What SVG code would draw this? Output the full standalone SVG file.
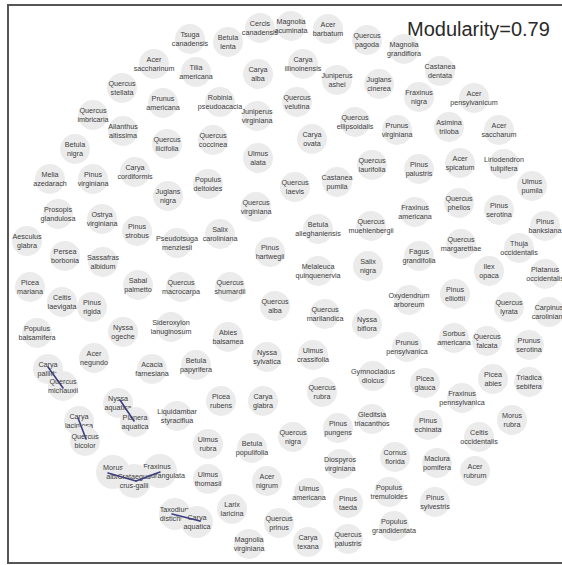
<svg xmlns="http://www.w3.org/2000/svg" width="562" height="565" viewBox="0 0 562 565">
<style>
.n circle{fill:#ebebeb}
.n text{font-family:"Liberation Sans",Arial,sans-serif;font-size:7.2px;fill:#3c3c3c;text-anchor:middle}
.e line{stroke:#3e3e7e;stroke-width:1.6;stroke-linecap:round}
.title{font-family:"Liberation Sans",Arial,sans-serif;font-size:20px;fill:#2a2a2a}
</style>
<rect x="0" y="0" width="562" height="565" fill="#ffffff"/>
<rect x="8" y="5" width="556" height="558" fill="none" stroke="#555555" stroke-width="2"/>
<text class="title" x="407" y="36">Modularity=0.79</text>
<g id="nodes">
<g id="tsuga-canadensis" class="n" transform="translate(190,39)"><circle r="15"/><text><tspan x="0" y="-2">Tsuga</tspan><tspan x="0" y="7">canadensis</tspan></text></g>
<g id="betula-lenta" class="n" transform="translate(228,42)"><circle r="15"/><text><tspan x="0" y="-2">Betula</tspan><tspan x="0" y="7">lenta</tspan></text></g>
<g id="cercis-canadensis" class="n" transform="translate(260,28)"><circle r="15"/><text><tspan x="0" y="-2">Cercis</tspan><tspan x="0" y="7">canadensis</tspan></text></g>
<g id="magnolia-acuminata" class="n" transform="translate(291,26)"><circle r="15"/><text><tspan x="0" y="-2">Magnolia</tspan><tspan x="0" y="7">acuminata</tspan></text></g>
<g id="acer-barbatum" class="n" transform="translate(328,29)"><circle r="15"/><text><tspan x="0" y="-2">Acer</tspan><tspan x="0" y="7">barbatum</tspan></text></g>
<g id="quercus-pagoda" class="n" transform="translate(367,40)"><circle r="15"/><text><tspan x="0" y="-2">Quercus</tspan><tspan x="0" y="7">pagoda</tspan></text></g>
<g id="magnolia-grandiflora" class="n" transform="translate(404,49)"><circle r="15"/><text><tspan x="0" y="-2">Magnolia</tspan><tspan x="0" y="7">grandiflora</tspan></text></g>
<g id="castanea-dentata" class="n" transform="translate(440,71)"><circle r="15"/><text><tspan x="0" y="-2">Castanea</tspan><tspan x="0" y="7">dentata</tspan></text></g>
<g id="acer-saccharinum" class="n" transform="translate(154,64)"><circle r="15"/><text><tspan x="0" y="-2">Acer</tspan><tspan x="0" y="7">saccharinum</tspan></text></g>
<g id="tilia-americana" class="n" transform="translate(196,72)"><circle r="15"/><text><tspan x="0" y="-2">Tilia</tspan><tspan x="0" y="7">americana</tspan></text></g>
<g id="carya-alba" class="n" transform="translate(258,74)"><circle r="15"/><text><tspan x="0" y="-2">Carya</tspan><tspan x="0" y="7">alba</tspan></text></g>
<g id="carya-illinoinensis" class="n" transform="translate(303,64)"><circle r="15"/><text><tspan x="0" y="-2">Carya</tspan><tspan x="0" y="7">illinoinensis</tspan></text></g>
<g id="juniperus-ashei" class="n" transform="translate(337,80)"><circle r="15"/><text><tspan x="0" y="-2">Juniperus</tspan><tspan x="0" y="7">ashei</tspan></text></g>
<g id="juglans-cinerea" class="n" transform="translate(379,84)"><circle r="15"/><text><tspan x="0" y="-2">Juglans</tspan><tspan x="0" y="7">cinerea</tspan></text></g>
<g id="fraxinus-nigra" class="n" transform="translate(419,97)"><circle r="15"/><text><tspan x="0" y="-2">Fraxinus</tspan><tspan x="0" y="7">nigra</tspan></text></g>
<g id="acer-pensylvanicum" class="n" transform="translate(474,98)"><circle r="15"/><text><tspan x="0" y="-2">Acer</tspan><tspan x="0" y="7">pensylvanicum</tspan></text></g>
<g id="quercus-stellata" class="n" transform="translate(122,88)"><circle r="15"/><text><tspan x="0" y="-2">Quercus</tspan><tspan x="0" y="7">stellata</tspan></text></g>
<g id="prunus-americana" class="n" transform="translate(163,103)"><circle r="15"/><text><tspan x="0" y="-2">Prunus</tspan><tspan x="0" y="7">americana</tspan></text></g>
<g id="robinia-pseudoacacia" class="n" transform="translate(220,102)"><circle r="15"/><text><tspan x="0" y="-2">Robinia</tspan><tspan x="0" y="7">pseudoacacia</tspan></text></g>
<g id="quercus-velutina" class="n" transform="translate(297,102)"><circle r="15"/><text><tspan x="0" y="-2">Quercus</tspan><tspan x="0" y="7">velutina</tspan></text></g>
<g id="juniperus-virginiana" class="n" transform="translate(257,116)"><circle r="15"/><text><tspan x="0" y="-2">Juniperus</tspan><tspan x="0" y="7">virginiana</tspan></text></g>
<g id="quercus-imbricaria" class="n" transform="translate(93,115)"><circle r="15"/><text><tspan x="0" y="-2">Quercus</tspan><tspan x="0" y="7">imbricaria</tspan></text></g>
<g id="ailanthus-altissima" class="n" transform="translate(123,131)"><circle r="15"/><text><tspan x="0" y="-2">Ailanthus</tspan><tspan x="0" y="7">altissima</tspan></text></g>
<g id="quercus-ellipsoidalis" class="n" transform="translate(355,122)"><circle r="15"/><text><tspan x="0" y="-2">Quercus</tspan><tspan x="0" y="7">ellipsoidalis</tspan></text></g>
<g id="prunus-virginiana" class="n" transform="translate(397,130)"><circle r="15"/><text><tspan x="0" y="-2">Prunus</tspan><tspan x="0" y="7">virginiana</tspan></text></g>
<g id="asimina-triloba" class="n" transform="translate(449,127)"><circle r="15"/><text><tspan x="0" y="-2">Asimina</tspan><tspan x="0" y="7">triloba</tspan></text></g>
<g id="acer-saccharum" class="n" transform="translate(499,130)"><circle r="15"/><text><tspan x="0" y="-2">Acer</tspan><tspan x="0" y="7">saccharum</tspan></text></g>
<g id="betula-nigra" class="n" transform="translate(75,149)"><circle r="15"/><text><tspan x="0" y="-2">Betula</tspan><tspan x="0" y="7">nigra</tspan></text></g>
<g id="quercus-ilicifolia" class="n" transform="translate(167,144)"><circle r="15"/><text><tspan x="0" y="-2">Quercus</tspan><tspan x="0" y="7">ilicifolia</tspan></text></g>
<g id="quercus-coccinea" class="n" transform="translate(213,140)"><circle r="15"/><text><tspan x="0" y="-2">Quercus</tspan><tspan x="0" y="7">coccinea</tspan></text></g>
<g id="carya-ovata" class="n" transform="translate(312,139)"><circle r="15"/><text><tspan x="0" y="-2">Carya</tspan><tspan x="0" y="7">ovata</tspan></text></g>
<g id="ulmus-alata" class="n" transform="translate(258,158)"><circle r="15"/><text><tspan x="0" y="-2">Ulmus</tspan><tspan x="0" y="7">alata</tspan></text></g>
<g id="quercus-laurifolia" class="n" transform="translate(372,165)"><circle r="15"/><text><tspan x="0" y="-2">Quercus</tspan><tspan x="0" y="7">laurifolia</tspan></text></g>
<g id="pinus-palustris" class="n" transform="translate(419,169)"><circle r="15"/><text><tspan x="0" y="-2">Pinus</tspan><tspan x="0" y="7">palustris</tspan></text></g>
<g id="acer-spicatum" class="n" transform="translate(460,163)"><circle r="15"/><text><tspan x="0" y="-2">Acer</tspan><tspan x="0" y="7">spicatum</tspan></text></g>
<g id="liriodendron-tulipifera" class="n" transform="translate(504,164)"><circle r="15"/><text><tspan x="0" y="-2">Liriodendron</tspan><tspan x="0" y="7">tulipifera</tspan></text></g>
<g id="melia-azedarach" class="n" transform="translate(50,179)"><circle r="15"/><text><tspan x="0" y="-2">Melia</tspan><tspan x="0" y="7">azedarach</tspan></text></g>
<g id="pinus-virginiana" class="n" transform="translate(93,179)"><circle r="15"/><text><tspan x="0" y="-2">Pinus</tspan><tspan x="0" y="7">virginiana</tspan></text></g>
<g id="carya-cordiformis" class="n" transform="translate(135,172)"><circle r="15"/><text><tspan x="0" y="-2">Carya</tspan><tspan x="0" y="7">cordiformis</tspan></text></g>
<g id="populus-deltoides" class="n" transform="translate(208,184)"><circle r="15"/><text><tspan x="0" y="-2">Populus</tspan><tspan x="0" y="7">deltoides</tspan></text></g>
<g id="quercus-laevis" class="n" transform="translate(295,187)"><circle r="15"/><text><tspan x="0" y="-2">Quercus</tspan><tspan x="0" y="7">laevis</tspan></text></g>
<g id="castanea-pumila" class="n" transform="translate(337,182)"><circle r="15"/><text><tspan x="0" y="-2">Castanea</tspan><tspan x="0" y="7">pumila</tspan></text></g>
<g id="ulmus-pumila" class="n" transform="translate(532,186)"><circle r="15"/><text><tspan x="0" y="-2">Ulmus</tspan><tspan x="0" y="7">pumila</tspan></text></g>
<g id="juglans-nigra" class="n" transform="translate(168,196)"><circle r="15"/><text><tspan x="0" y="-2">Juglans</tspan><tspan x="0" y="7">nigra</tspan></text></g>
<g id="quercus-phellos" class="n" transform="translate(459,203)"><circle r="15"/><text><tspan x="0" y="-2">Quercus</tspan><tspan x="0" y="7">phellos</tspan></text></g>
<g id="pinus-serotina" class="n" transform="translate(499,210)"><circle r="15"/><text><tspan x="0" y="-2">Pinus</tspan><tspan x="0" y="7">serotina</tspan></text></g>
<g id="prosopis-glandulosa" class="n" transform="translate(58,214)"><circle r="15"/><text><tspan x="0" y="-2">Prosopis</tspan><tspan x="0" y="7">glandulosa</tspan></text></g>
<g id="ostrya-virginiana" class="n" transform="translate(102,219)"><circle r="15"/><text><tspan x="0" y="-2">Ostrya</tspan><tspan x="0" y="7">virginiana</tspan></text></g>
<g id="quercus-virginiana" class="n" transform="translate(256,207)"><circle r="15"/><text><tspan x="0" y="-2">Quercus</tspan><tspan x="0" y="7">virginiana</tspan></text></g>
<g id="fraxinus-americana" class="n" transform="translate(415,212)"><circle r="15"/><text><tspan x="0" y="-2">Fraxinus</tspan><tspan x="0" y="7">americana</tspan></text></g>
<g id="quercus-muehlenbergii" class="n" transform="translate(371,226)"><circle r="15"/><text><tspan x="0" y="-2">Quercus</tspan><tspan x="0" y="7">muehlenbergii</tspan></text></g>
<g id="pinus-banksiana" class="n" transform="translate(545,226)"><circle r="15"/><text><tspan x="0" y="-2">Pinus</tspan><tspan x="0" y="7">banksiana</tspan></text></g>
<g id="aesculus-glabra" class="n" transform="translate(27,241)"><circle r="15"/><text><tspan x="0" y="-2">Aesculus</tspan><tspan x="0" y="7">glabra</tspan></text></g>
<g id="pinus-strobus" class="n" transform="translate(137,231)"><circle r="15"/><text><tspan x="0" y="-2">Pinus</tspan><tspan x="0" y="7">strobus</tspan></text></g>
<g id="betula-alleghaniensis" class="n" transform="translate(318,229)"><circle r="15"/><text><tspan x="0" y="-2">Betula</tspan><tspan x="0" y="7">alleghaniensis</tspan></text></g>
<g id="salix-caroliniana" class="n" transform="translate(220,234)"><circle r="15"/><text><tspan x="0" y="-2">Salix</tspan><tspan x="0" y="7">caroliniana</tspan></text></g>
<g id="pseudotsuga-menziesii" class="n" transform="translate(177,243)"><circle r="15"/><text><tspan x="0" y="-2">Pseudotsuga</tspan><tspan x="0" y="7">menziesii</tspan></text></g>
<g id="quercus-margarettiae" class="n" transform="translate(461,244)"><circle r="15"/><text><tspan x="0" y="-2">Quercus</tspan><tspan x="0" y="7">margarettiae</tspan></text></g>
<g id="thuja-occidentalis" class="n" transform="translate(519,248)"><circle r="15"/><text><tspan x="0" y="-2">Thuja</tspan><tspan x="0" y="7">occidentalis</tspan></text></g>
<g id="persea-borbonia" class="n" transform="translate(65,256)"><circle r="15"/><text><tspan x="0" y="-2">Persea</tspan><tspan x="0" y="7">borbonia</tspan></text></g>
<g id="sassafras-albidum" class="n" transform="translate(103,262)"><circle r="15"/><text><tspan x="0" y="-2">Sassafras</tspan><tspan x="0" y="7">albidum</tspan></text></g>
<g id="pinus-hartwegii" class="n" transform="translate(270,252)"><circle r="15"/><text><tspan x="0" y="-2">Pinus</tspan><tspan x="0" y="7">hartwegii</tspan></text></g>
<g id="fagus-grandifolia" class="n" transform="translate(419,256)"><circle r="15"/><text><tspan x="0" y="-2">Fagus</tspan><tspan x="0" y="7">grandifolia</tspan></text></g>
<g id="melaleuca-quinquenervia" class="n" transform="translate(318,271)"><circle r="15"/><text><tspan x="0" y="-2">Melaleuca</tspan><tspan x="0" y="7">quinquenervia</tspan></text></g>
<g id="salix-nigra" class="n" transform="translate(368,266)"><circle r="15"/><text><tspan x="0" y="-2">Salix</tspan><tspan x="0" y="7">nigra</tspan></text></g>
<g id="ilex-opaca" class="n" transform="translate(489,271)"><circle r="15"/><text><tspan x="0" y="-2">Ilex</tspan><tspan x="0" y="7">opaca</tspan></text></g>
<g id="platanus-occidentalis" class="n" transform="translate(545,274)"><circle r="15"/><text><tspan x="0" y="-2">Platanus</tspan><tspan x="0" y="7">occidentalis</tspan></text></g>
<g id="picea-mariana" class="n" transform="translate(30,287)"><circle r="15"/><text><tspan x="0" y="-2">Picea</tspan><tspan x="0" y="7">mariana</tspan></text></g>
<g id="sabal-palmetto" class="n" transform="translate(138,285)"><circle r="15"/><text><tspan x="0" y="-2">Sabal</tspan><tspan x="0" y="7">palmetto</tspan></text></g>
<g id="quercus-macrocarpa" class="n" transform="translate(181,287)"><circle r="15"/><text><tspan x="0" y="-2">Quercus</tspan><tspan x="0" y="7">macrocarpa</tspan></text></g>
<g id="quercus-shumardii" class="n" transform="translate(230,287)"><circle r="15"/><text><tspan x="0" y="-2">Quercus</tspan><tspan x="0" y="7">shumardii</tspan></text></g>
<g id="celtis-laevigata" class="n" transform="translate(62,302)"><circle r="15"/><text><tspan x="0" y="-2">Celtis</tspan><tspan x="0" y="7">laevigata</tspan></text></g>
<g id="pinus-rigida" class="n" transform="translate(92,307)"><circle r="15"/><text><tspan x="0" y="-2">Pinus</tspan><tspan x="0" y="7">rigida</tspan></text></g>
<g id="quercus-alba" class="n" transform="translate(275,306)"><circle r="15"/><text><tspan x="0" y="-2">Quercus</tspan><tspan x="0" y="7">alba</tspan></text></g>
<g id="oxydendrum-arboreum" class="n" transform="translate(409,300)"><circle r="15"/><text><tspan x="0" y="-2">Oxydendrum</tspan><tspan x="0" y="7">arboreum</tspan></text></g>
<g id="pinus-elliottii" class="n" transform="translate(455,294)"><circle r="15"/><text><tspan x="0" y="-2">Pinus</tspan><tspan x="0" y="7">elliottii</tspan></text></g>
<g id="quercus-lyrata" class="n" transform="translate(509,307)"><circle r="15"/><text><tspan x="0" y="-2">Quercus</tspan><tspan x="0" y="7">lyrata</tspan></text></g>
<g id="carpinus-caroliniana" class="n" transform="translate(549,312)"><circle r="15"/><text><tspan x="0" y="-2">Carpinus</tspan><tspan x="0" y="7">caroliniana</tspan></text></g>
<g id="abies-balsamea" class="n" transform="translate(228,337)"><circle r="15"/><text><tspan x="0" y="-2">Abies</tspan><tspan x="0" y="7">balsamea</tspan></text></g>
<g id="quercus-marilandica" class="n" transform="translate(325,314)"><circle r="15"/><text><tspan x="0" y="-2">Quercus</tspan><tspan x="0" y="7">marilandica</tspan></text></g>
<g id="nyssa-biflora" class="n" transform="translate(367,324)"><circle r="15"/><text><tspan x="0" y="-2">Nyssa</tspan><tspan x="0" y="7">biflora</tspan></text></g>
<g id="populus-balsamifera" class="n" transform="translate(37,333)"><circle r="15"/><text><tspan x="0" y="-2">Populus</tspan><tspan x="0" y="7">balsamifera</tspan></text></g>
<g id="nyssa-ogeche" class="n" transform="translate(123,332)"><circle r="15"/><text><tspan x="0" y="-2">Nyssa</tspan><tspan x="0" y="7">ogeche</tspan></text></g>
<g id="sideroxylon-lanuginosum" class="n" transform="translate(171,327)"><circle r="15"/><text><tspan x="0" y="-2">Sideroxylon</tspan><tspan x="0" y="7">lanuginosum</tspan></text></g>
<g id="sorbus-americana" class="n" transform="translate(454,338)"><circle r="15"/><text><tspan x="0" y="-2">Sorbus</tspan><tspan x="0" y="7">americana</tspan></text></g>
<g id="quercus-falcata" class="n" transform="translate(487,341)"><circle r="15"/><text><tspan x="0" y="-2">Quercus</tspan><tspan x="0" y="7">falcata</tspan></text></g>
<g id="prunus-pensylvanica" class="n" transform="translate(407,347)"><circle r="15"/><text><tspan x="0" y="-2">Prunus</tspan><tspan x="0" y="7">pensylvanica</tspan></text></g>
<g id="prunus-serotina" class="n" transform="translate(529,345)"><circle r="15"/><text><tspan x="0" y="-2">Prunus</tspan><tspan x="0" y="7">serotina</tspan></text></g>
<g id="acer-negundo" class="n" transform="translate(94,358)"><circle r="15"/><text><tspan x="0" y="-2">Acer</tspan><tspan x="0" y="7">negundo</tspan></text></g>
<g id="acacia-farnesiana" class="n" transform="translate(152,369)"><circle r="15"/><text><tspan x="0" y="-2">Acacia</tspan><tspan x="0" y="7">farnesiana</tspan></text></g>
<g id="betula-papyrifera" class="n" transform="translate(196,365)"><circle r="15"/><text><tspan x="0" y="-2">Betula</tspan><tspan x="0" y="7">papyrifera</tspan></text></g>
<g id="nyssa-sylvatica" class="n" transform="translate(267,357)"><circle r="15"/><text><tspan x="0" y="-2">Nyssa</tspan><tspan x="0" y="7">sylvatica</tspan></text></g>
<g id="ulmus-crassifolia" class="n" transform="translate(313,355)"><circle r="15"/><text><tspan x="0" y="-2">Ulmus</tspan><tspan x="0" y="7">crassifolia</tspan></text></g>
<g id="carya-pallida" class="n" transform="translate(48,369)"><circle r="15"/><text><tspan x="0" y="-2">Carya</tspan><tspan x="0" y="7">pallida</tspan></text></g>
<g id="quercus-michauxii" class="n" transform="translate(63,386)"><circle r="15"/><text><tspan x="0" y="-2">Quercus</tspan><tspan x="0" y="7">michauxii</tspan></text></g>
<g id="gymnocladus-dioicus" class="n" transform="translate(373,376)"><circle r="15"/><text><tspan x="0" y="-2">Gymnocladus</tspan><tspan x="0" y="7">dioicus</tspan></text></g>
<g id="picea-glauca" class="n" transform="translate(425,383)"><circle r="15"/><text><tspan x="0" y="-2">Picea</tspan><tspan x="0" y="7">glauca</tspan></text></g>
<g id="picea-abies" class="n" transform="translate(493,379)"><circle r="15"/><text><tspan x="0" y="-2">Picea</tspan><tspan x="0" y="7">abies</tspan></text></g>
<g id="triadica-sebifera" class="n" transform="translate(529,382)"><circle r="15"/><text><tspan x="0" y="-2">Triadica</tspan><tspan x="0" y="7">sebifera</tspan></text></g>
<g id="quercus-rubra" class="n" transform="translate(322,392)"><circle r="15"/><text><tspan x="0" y="-2">Quercus</tspan><tspan x="0" y="7">rubra</tspan></text></g>
<g id="fraxinus-pennsylvanica" class="n" transform="translate(462,398)"><circle r="15"/><text><tspan x="0" y="-2">Fraxinus</tspan><tspan x="0" y="7">pennsylvanica</tspan></text></g>
<g id="carya-laciniosa" class="n" transform="translate(79,421)"><circle r="15"/><text><tspan x="0" y="-2">Carya</tspan><tspan x="0" y="7">laciniosa</tspan></text></g>
<g id="quercus-bicolor" class="n" transform="translate(85,441)"><circle r="15"/><text><tspan x="0" y="-2">Quercus</tspan><tspan x="0" y="7">bicolor</tspan></text></g>
<g id="nyssa-aquatica" class="n" transform="translate(118,403)"><circle r="15"/><text><tspan x="0" y="-2">Nyssa</tspan><tspan x="0" y="7">aquatica</tspan></text></g>
<g id="planera-aquatica" class="n" transform="translate(135,422)"><circle r="15"/><text><tspan x="0" y="-2">Planera</tspan><tspan x="0" y="7">aquatica</tspan></text></g>
<g id="liquidambar-styraciflua" class="n" transform="translate(177,416)"><circle r="15"/><text><tspan x="0" y="-2">Liquidambar</tspan><tspan x="0" y="7">styraciflua</tspan></text></g>
<g id="picea-rubens" class="n" transform="translate(221,401)"><circle r="15"/><text><tspan x="0" y="-2">Picea</tspan><tspan x="0" y="7">rubens</tspan></text></g>
<g id="carya-glabra" class="n" transform="translate(263,401)"><circle r="15"/><text><tspan x="0" y="-2">Carya</tspan><tspan x="0" y="7">glabra</tspan></text></g>
<g id="gleditsia-triacanthos" class="n" transform="translate(372,419)"><circle r="15"/><text><tspan x="0" y="-2">Gleditsia</tspan><tspan x="0" y="7">triacanthos</tspan></text></g>
<g id="pinus-echinata" class="n" transform="translate(428,425)"><circle r="15"/><text><tspan x="0" y="-2">Pinus</tspan><tspan x="0" y="7">echinata</tspan></text></g>
<g id="morus-rubra" class="n" transform="translate(512,420)"><circle r="15"/><text><tspan x="0" y="-2">Morus</tspan><tspan x="0" y="7">rubra</tspan></text></g>
<g id="ulmus-rubra" class="n" transform="translate(208,444)"><circle r="15"/><text><tspan x="0" y="-2">Ulmus</tspan><tspan x="0" y="7">rubra</tspan></text></g>
<g id="betula-populifolia" class="n" transform="translate(252,448)"><circle r="15"/><text><tspan x="0" y="-2">Betula</tspan><tspan x="0" y="7">populifolia</tspan></text></g>
<g id="quercus-nigra" class="n" transform="translate(293,437)"><circle r="15"/><text><tspan x="0" y="-2">Quercus</tspan><tspan x="0" y="7">nigra</tspan></text></g>
<g id="pinus-pungens" class="n" transform="translate(338,428)"><circle r="15"/><text><tspan x="0" y="-2">Pinus</tspan><tspan x="0" y="7">pungens</tspan></text></g>
<g id="cornus-florida" class="n" transform="translate(395,457)"><circle r="15"/><text><tspan x="0" y="-2">Cornus</tspan><tspan x="0" y="7">florida</tspan></text></g>
<g id="celtis-occidentalis" class="n" transform="translate(479,437)"><circle r="15"/><text><tspan x="0" y="-2">Celtis</tspan><tspan x="0" y="7">occidentalis</tspan></text></g>
<g id="morus-alba" class="n" transform="translate(113,472)"><circle r="17"/><text><tspan x="0" y="-2">Morus</tspan><tspan x="0" y="7">alba</tspan></text></g>
<g id="fraxinus-quadrangulata" class="n" transform="translate(160,471)"><circle r="17"/><text><tspan x="-3" y="-2">Fraxinus</tspan><tspan x="2" y="7">quadrangulata</tspan></text></g>
<g id="crataegus-crus-galli" class="n" transform="translate(134,481)"><circle r="17"/><text><tspan x="0" y="-2">Crataegus</tspan><tspan x="0" y="7">crus-galli</tspan></text></g>
<g id="ulmus-thomasii" class="n" transform="translate(208,479)"><circle r="15"/><text><tspan x="0" y="-2">Ulmus</tspan><tspan x="0" y="7">thomasii</tspan></text></g>
<g id="acer-nigrum" class="n" transform="translate(267,481)"><circle r="15"/><text><tspan x="0" y="-2">Acer</tspan><tspan x="0" y="7">nigrum</tspan></text></g>
<g id="diospyros-virginiana" class="n" transform="translate(340,464)"><circle r="15"/><text><tspan x="0" y="-2">Diospyros</tspan><tspan x="0" y="7">virginiana</tspan></text></g>
<g id="maclura-pomifera" class="n" transform="translate(437,463)"><circle r="15"/><text><tspan x="0" y="-2">Maclura</tspan><tspan x="0" y="7">pomifera</tspan></text></g>
<g id="acer-rubrum" class="n" transform="translate(475,471)"><circle r="15"/><text><tspan x="0" y="-2">Acer</tspan><tspan x="0" y="7">rubrum</tspan></text></g>
<g id="ulmus-americana" class="n" transform="translate(309,493)"><circle r="15"/><text><tspan x="0" y="-2">Ulmus</tspan><tspan x="0" y="7">americana</tspan></text></g>
<g id="pinus-taeda" class="n" transform="translate(348,503)"><circle r="15"/><text><tspan x="0" y="-2">Pinus</tspan><tspan x="0" y="7">taeda</tspan></text></g>
<g id="populus-tremuloides" class="n" transform="translate(389,492)"><circle r="15"/><text><tspan x="0" y="-2">Populus</tspan><tspan x="0" y="7">tremuloides</tspan></text></g>
<g id="pinus-sylvestris" class="n" transform="translate(435,502)"><circle r="15"/><text><tspan x="0" y="-2">Pinus</tspan><tspan x="0" y="7">sylvestris</tspan></text></g>
<g id="taxodium-distichum" class="n" transform="translate(175,514)"><circle r="16"/><text><tspan x="0" y="-2">Taxodium</tspan><tspan x="0" y="7">distichum</tspan></text></g>
<g id="carya-aquatica" class="n" transform="translate(197,522)"><circle r="16"/><text><tspan x="0" y="-2">Carya</tspan><tspan x="0" y="7">aquatica</tspan></text></g>
<g id="larix-laricina" class="n" transform="translate(232,509)"><circle r="15"/><text><tspan x="0" y="-2">Larix</tspan><tspan x="0" y="7">laricina</tspan></text></g>
<g id="quercus-prinus" class="n" transform="translate(279,523)"><circle r="15"/><text><tspan x="0" y="-2">Quercus</tspan><tspan x="0" y="7">prinus</tspan></text></g>
<g id="magnolia-virginiana" class="n" transform="translate(249,544)"><circle r="15"/><text><tspan x="0" y="-2">Magnolia</tspan><tspan x="0" y="7">virginiana</tspan></text></g>
<g id="carya-texana" class="n" transform="translate(308,542)"><circle r="15"/><text><tspan x="0" y="-2">Carya</tspan><tspan x="0" y="7">texana</tspan></text></g>
<g id="quercus-palustris" class="n" transform="translate(348,539)"><circle r="15"/><text><tspan x="0" y="-2">Quercus</tspan><tspan x="0" y="7">palustris</tspan></text></g>
<g id="populus-grandidentata" class="n" transform="translate(394,526)"><circle r="15"/><text><tspan x="0" y="-2">Populus</tspan><tspan x="0" y="7">grandidentata</tspan></text></g>
</g>
<g id="connectors" class="e">
<line x1="48" y1="367" x2="63" y2="388"/>
<line x1="120" y1="400" x2="134" y2="421"/>
<line x1="78" y1="418" x2="86" y2="439"/>
<line x1="108" y1="473" x2="136" y2="481"/>
<line x1="136" y1="481" x2="160" y2="472"/>
<line x1="172" y1="514" x2="200" y2="521"/>
</g>
</svg>
